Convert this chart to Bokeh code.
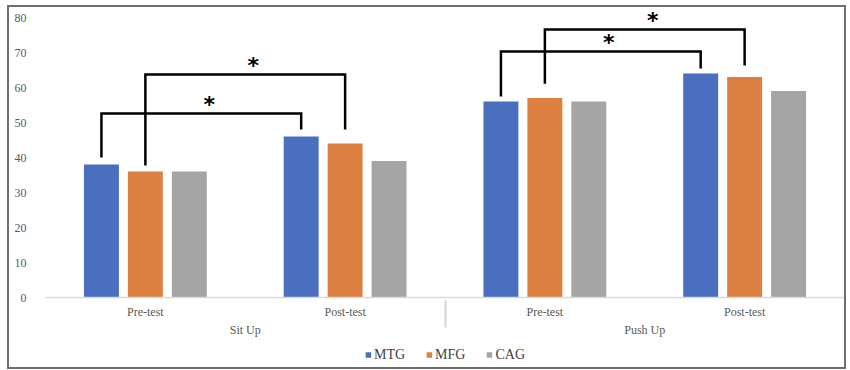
from bokeh.plotting import figure
from bokeh.models import FactorRange, ColumnDataSource, Legend, LegendItem
from bokeh.layouts import column
from bokeh.transform import dodge
from bokeh.core.properties import value
from bokeh.embed import file_html
from bokeh.resources import INLINE

# ---- data ----
tests = ["Sit Up", "Push Up"]
phases = ["Pre-test", "Post-test"]
series = ["MTG", "MFG", "CAG"]
colors = ["#4A6FBF", "#DB8041", "#A5A5A5"]
mtg = [38, 46, 56, 64]
mfg = [36, 44, 57, 63]
cag = [36, 39, 56, 59]
y_ticks = [0, 10, 20, 30, 40, 50, 60, 70, 80]

# significance brackets
br_start = [("Sit Up", "Pre-test"), ("Sit Up", "Pre-test"), ("Push Up", "Pre-test"), ("Push Up", "Pre-test")]
br_end = [("Sit Up", "Post-test"), ("Sit Up", "Post-test"), ("Push Up", "Post-test"), ("Push Up", "Post-test")]
br_series = ["MTG", "MFG", "MTG", "MFG"]
br_start_y = [40, 37.7, 57.4, 61.1]
br_top_y = [52.6, 63.7, 70.3, 76.6]
br_end_y = [48, 48, 65.4, 66.3]
br_label = ["*", "*", "*", "*"]

factors = [(t, ph) for t in tests for ph in phases]

SERIF = "Liberation Serif"
GRAY = "#595959"

x_range = FactorRange(*factors, range_padding=0, factor_padding=0, group_padding=0)
p = figure(
    x_range=x_range,
    y_range=(0, 82),
    width=835, height=335,
    output_backend="svg", toolbar_location=None,
    min_border_left=36, min_border_right=0, min_border_top=3, min_border_bottom=45,
)

src = ColumnDataSource(data=dict(x=factors, MTG=mtg, MFG=mfg, CAG=cag))

offsets = {"MTG": -0.22, "MFG": 0.0, "CAG": 0.22}
for s, c in zip(series, colors):
    p.vbar(x=dodge("x", offsets[s], range=x_range), top=s, width=0.175,
           source=src, fill_color=c, line_color=None)

# brackets
xs, ys, sx, sy = [], [], [], []
for f0, f1, s, y0, yt, y1 in zip(br_start, br_end, br_series, br_start_y, br_top_y, br_end_y):
    x0 = factors.index(f0) + 0.5 + offsets[s]
    x1 = factors.index(f1) + 0.5 + offsets[s]
    xs.append([x0, x0, x1, x1])
    ys.append([y0, yt, yt, y1])
    sx.append((x0 + x1) / 2)
    sy.append(yt)
p.multi_line(xs=xs, ys=ys, line_color="black", line_width=2.5, line_join="miter")
p.text(x=sx, y=sy, text=br_label, text_align="center", text_baseline="middle",
       text_font=value("DejaVu Sans"), text_font_style="bold", text_font_size="22px",
       x_offset=8, y_offset=-9, text_color="black")

# axes
p.grid.visible = False
p.outline_line_color = None
p.yaxis.ticker = y_ticks
p.yaxis.axis_line_color = None
p.yaxis.major_tick_line_color = None
p.yaxis.minor_tick_line_color = None
p.yaxis.major_label_text_font = SERIF
p.yaxis.major_label_text_font_size = "12px"
p.yaxis.major_label_text_color = GRAY
p.yaxis.major_label_standoff = 13

xa = p.xaxis[0]
xa.axis_line_color = "#D9D9D9"
xa.axis_line_width = 1.5
xa.major_tick_line_color = None
xa.minor_tick_line_color = None
xa.major_label_text_font = SERIF
xa.major_label_text_font_size = "12px"
xa.major_label_text_color = GRAY
xa.group_text_font = SERIF
xa.group_text_font_size = "12px"
xa.group_text_color = GRAY
xa.group_text_font_style = "normal"
xa.major_label_standoff = 1

# legend in a strip below the chart (its renderers are hidden; only the key shows)
p2 = figure(width=835, height=25, x_range=x_range, y_range=(-2, -1),
            output_backend="svg", toolbar_location=None,
            min_border_left=22, min_border_right=0, min_border_top=0, min_border_bottom=0)
p2.axis.visible = False
p2.grid.visible = False
p2.outline_line_color = None
items = []
for s, c in zip(series, colors):
    r = p2.vbar(x=dodge("x", offsets[s], range=x_range), top=s, width=0.175,
                source=src, fill_color=c, line_color=None, visible=False)
    items.append(LegendItem(label=s, renderers=[r]))
legend = Legend(items=items, orientation="horizontal", location="center",
                label_text_font=SERIF, label_text_font_size="14px", label_text_color="#404040",
                glyph_width=7, glyph_height=7, spacing=20, label_standoff=3,
                inactive_fill_alpha=0,
                border_line_color=None, background_fill_alpha=0, padding=0, margin=0)
p2.add_layout(legend)

layout = column(p, p2, spacing=0,
                styles={"border": "2px solid #6e6e6e", "margin-left": "7px", "margin-top": "5px"})

open("out.html", "w").write(file_html(layout, INLINE))
